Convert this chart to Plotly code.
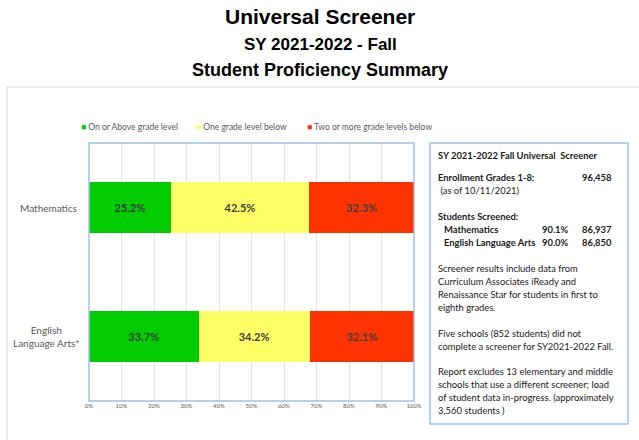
import plotly.graph_objects as go

categories = ["Mathematics", "English Language Arts*"]
category_labels = ["Mathematics", "English<br>Language Arts*"]
series_names = ["On or Above grade level", "One grade level below", "Two or more grade levels below"]
on_above = [25.2, 33.7]
one_below = [42.5, 34.2]
two_below = [32.3, 32.1]
tick_vals = [0, 10, 20, 30, 40, 50, 60, 70, 80, 90, 100]
tick_text = ["0%", "10%", "20%", "30%", "40%", "50%", "60%", "70%", "80%", "90%", "100%"]
colors = ["#00CC00", "#FFFF66", "#FF3300"]

W, H = 639, 440
L, R, T, B = 89, 414, 143, 401
FONT = "Lato, Carlito, sans-serif"

fig = go.Figure()
for name, vals, col in zip(series_names, [on_above, one_below, two_below], colors):
    fig.add_trace(go.Bar(
        y=categories, x=vals, name=name, orientation="h",
        marker=dict(color=col, line=dict(width=0)),
        texttemplate="<b>%{x:.1f}%</b>", textposition="inside",
        insidetextanchor="middle",
        textfont=dict(family=FONT, size=11, color="#404040"),
        hoverinfo="skip", showlegend=False,
    ))

def px(x):
    return (x - L) / (R - L)

def py(y):
    return (B - y) / (B - T)

annotations = []
# Titles
for text, y, size in [("Universal Screener", 16, 21), ("SY 2021-2022 - Fall", 44, 17), ("Student Proficiency Summary", 70, 18)]:
    annotations.append(dict(text="<b>" + text + "</b>", x=px(320), y=py(y), xref="paper", yref="paper",
                            xanchor="center", yanchor="middle", showarrow=False,
                            font=dict(family="Liberation Sans, Arial", size=size, color="#000000")))

# Legend (drawn as text)
for x, name, col in zip([79, 194, 305], series_names, colors):
    annotations.append(dict(text="<span style='color:%s'>■</span> %s" % (col, name),
                            x=px(x), y=py(127), xref="paper", yref="paper",
                            xanchor="left", yanchor="middle", showarrow=False,
                            font=dict(family=FONT, size=8.5, color="#595959")))

# Category labels, centered multi-line
for cat, lab, xr in zip(categories, category_labels, [79, 82]):
    annotations.append(dict(text=lab, x=px(xr), y=cat, xref="paper", yref="y",
                            xanchor="right", yanchor="middle", align="center", showarrow=False,
                            font=dict(family=FONT, size=10, color="#595959")))

box_font = dict(family=FONT, size=9.4, color="#1a1a1a")
lines = [
    (436, 155, "<b>SY 2021-2022 Fall Universal  Screener</b>"),
    (436, 177, "<b>Enrollment Grades 1-8:</b>"),
    (580, 177, "<b>96,458</b>"),
    (436, 190, " (as of 10/11/2021)"),
    (436, 216, "<b>Students Screened:</b>"),
    (442, 229, "<b>Mathematics</b>"),
    (540, 229, "<b>90.1%</b>"),
    (580, 229, "<b>86,937</b>"),
    (442, 242, "<b>English Language Arts</b>"),
    (540, 242, "<b>90.0%</b>"),
    (580, 242, "<b>86,850</b>"),
    (436, 268, "Screener results include data from"),
    (436, 281, "Curriculum Associates iReady and"),
    (436, 294, "Renaissance Star for students in first to"),
    (436, 307, "eighth grades."),
    (436, 333, "Five schools (852 students) did not"),
    (436, 346, "complete a screener for SY2021-2022 Fall."),
    (436, 371, "Report excludes 13 elementary and middle"),
    (436, 384, "schools that use a different screener; load"),
    (436, 397, "of student data in-progress. (approximately"),
    (436, 410, "3,560 students )"),
]
for x, y, t in lines:
    annotations.append(dict(text=t, x=px(x), y=py(y), xref="paper", yref="paper",
                            xanchor="left", yanchor="middle", showarrow=False, font=box_font))

shapes = [
    dict(type="line", xref="paper", yref="paper", x0=px(7), x1=px(640), y0=py(87), y1=py(87),
         line=dict(color="#D9D9D9", width=1)),
    dict(type="line", xref="paper", yref="paper", x0=px(7), x1=px(7), y0=py(87), y1=py(441),
         line=dict(color="#D9D9D9", width=1)),
    dict(type="rect", xref="paper", yref="paper", x0=px(430), x1=px(628), y0=py(143), y1=py(424),
         line=dict(color="#9DC3E6", width=1.5), fillcolor="rgba(0,0,0,0)"),
    dict(type="rect", xref="paper", yref="paper", x0=0, x1=1, y0=0, y1=1,
         line=dict(color="#9DC3E6", width=1.5), fillcolor="rgba(0,0,0,0)", layer="above"),
]

fig.update_layout(
    width=W, height=H,
    margin=dict(l=L, r=W - R, t=T, b=H - B, pad=0),
    barmode="stack", bargap=0.6,
    paper_bgcolor="white", plot_bgcolor="white",
    showlegend=False,
    xaxis=dict(range=[0, 100], tickvals=tick_vals, ticktext=tick_text, showgrid=True,
               gridcolor="#E5E5E5", gridwidth=1, zeroline=False, showline=False,
               tickfont=dict(family=FONT, size=6, color="#595959"), ticks=""),
    yaxis=dict(autorange="reversed", showgrid=False, zeroline=False, showline=False, ticks="",
               showticklabels=False),
    annotations=annotations, shapes=shapes,
    uniformtext=dict(mode="show", minsize=6),
)

fig.write_html("out.html")
